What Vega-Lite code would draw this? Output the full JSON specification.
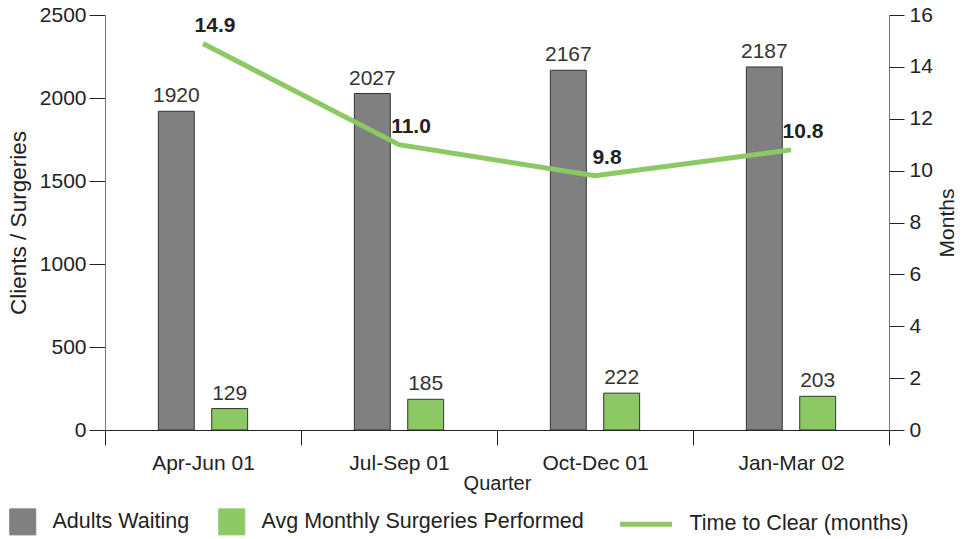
{
  "$schema": "https://vega.github.io/schema/vega-lite/v6.json",
  "width": 784,
  "height": 415,
  "autosize": "none",
  "padding": {"left": 105, "top": 15, "right": 80, "bottom": 109},
  "config": {
    "font": "Liberation Sans",
    "view": {"stroke": null},
    "axis": {
      "labelFont": "Liberation Sans",
      "labelFontSize": 21,
      "labelColor": "#222",
      "titleFont": "Liberation Sans",
      "titleFontSize": 21,
      "titleFontWeight": "normal",
      "titleColor": "#222",
      "grid": false,
      "tickColor": "#222",
      "domainColor": "#777"
    },
    "legend": {
      "labelFont": "Liberation Sans",
      "labelFontSize": 21.5,
      "labelColor": "#222",
      "labelLimit": 0
    }
  },
  "datasets": {
    "bars": [
      {"quarter": "Apr-Jun 01", "series": "Adults Waiting", "value": 1920},
      {"quarter": "Apr-Jun 01", "series": "Avg Monthly Surgeries Performed", "value": 129},
      {"quarter": "Jul-Sep 01", "series": "Adults Waiting", "value": 2027},
      {"quarter": "Jul-Sep 01", "series": "Avg Monthly Surgeries Performed", "value": 185},
      {"quarter": "Oct-Dec 01", "series": "Adults Waiting", "value": 2167},
      {"quarter": "Oct-Dec 01", "series": "Avg Monthly Surgeries Performed", "value": 222},
      {"quarter": "Jan-Mar 02", "series": "Adults Waiting", "value": 2187},
      {"quarter": "Jan-Mar 02", "series": "Avg Monthly Surgeries Performed", "value": 203}
    ],
    "line": [
      {"quarter": "Apr-Jun 01", "series": "Time to Clear (months)", "months": 14.9},
      {"quarter": "Jul-Sep 01", "series": "Time to Clear (months)", "months": 11.0},
      {"quarter": "Oct-Dec 01", "series": "Time to Clear (months)", "months": 9.8},
      {"quarter": "Jan-Mar 02", "series": "Time to Clear (months)", "months": 10.8}
    ]
  },
  "layer": [
    {
      "data": {"name": "bars"},
      "encoding": {
        "x": {
          "field": "quarter",
          "type": "nominal",
          "sort": null,
          "scale": {"paddingInner": 0, "paddingOuter": 0},
          "axis": {
            "title": "Quarter",
            "labelAngle": 0,
            "tickBand": "extent",
            "tickSize": 15,
            "labelPadding": 7,
            "titlePadding": 0,
            "titleFontSize": 20,
            "domainColor": "#222"
          }
        },
        "xOffset": {
          "field": "series",
          "sort": null,
          "scale": {"paddingInner": 0.327, "paddingOuter": 1.16}
        },
        "y": {
          "field": "value",
          "type": "quantitative",
          "scale": {"domain": [0, 2500]},
          "axis": {
            "title": "Clients / Surgeries",
            "titleFontSize": 22.5,
            "format": "d",
            "values": [0, 500, 1000, 1500, 2000, 2500],
            "tickSize": 16,
            "labelPadding": 3,
            "titlePadding": 9
          }
        }
      },
      "layer": [
        {
          "mark": {"type": "bar", "stroke": "#333", "strokeWidth": 1},
          "encoding": {
            "color": {
              "field": "series",
              "type": "nominal",
              "scale": {
                "domain": ["Adults Waiting", "Avg Monthly Surgeries Performed", "Time to Clear (months)"],
                "range": ["#808080", "#8CC864", "#8CC864"]
              },
              "legend": {
                "title": null,
                "orient": "none",
                "legendX": -93,
                "legendY": 496,
                "direction": "horizontal",
                "symbolSize": 676,
                "symbolType": "square",
                "symbolStrokeColor": "#333",
                "symbolStrokeWidth": 1,
                "symbolOpacity": 1,
                "labelOffset": 19,
                "columnPadding": 26,
                "encode": {
                  "symbols": {
                    "update": {
                      "shape": {"signal": "datum.value === 'Time to Clear (months)' ? 'M-0.9,0H3.1' : 'square'"},
                      "stroke": {"signal": "datum.value === 'Time to Clear (months)' ? '#8CC864' : '#333'"},
                      "strokeWidth": {"signal": "datum.value === 'Time to Clear (months)' ? 5 : 1"},
                      "size": {"value": 676}
                    }
                  },
                  "labels": {
                    "update": {
                      "dx": {"signal": "datum.value === 'Time to Clear (months)' ? 28 : 0"}
                    }
                  }
                }
              }
            }
          }
        },
        {
          "mark": {"type": "text", "baseline": "bottom", "dy": -5, "fontSize": 21, "color": "#333"},
          "encoding": {"text": {"field": "value", "type": "nominal"}}
        }
      ]
    },
    {
      "data": {"name": "line"},
      "encoding": {
        "x": {"field": "quarter", "type": "nominal", "sort": null},
        "y": {
          "field": "months",
          "type": "quantitative",
          "scale": {"domain": [0, 16]},
          "axis": {
            "orient": "right",
            "title": "Months",
            "titleAngle": -90,
            "titleBaseline": "top",
            "values": [0, 2, 4, 6, 8, 10, 12, 14, 16],
            "tickSize": 15,
            "labelPadding": 5,
            "titlePadding": 4
          }
        }
      },
      "layer": [
        {
          "mark": {"type": "line", "strokeWidth": 5},
          "encoding": {"color": {"datum": "Time to Clear (months)"}}
        },
        {
          "mark": {"type": "text", "baseline": "bottom", "dy": -8, "dx": 12, "fontSize": 21, "fontWeight": "bold", "color": "#222"},
          "encoding": {"text": {"field": "months", "type": "quantitative", "format": ".1f"}}
        }
      ]
    }
  ],
  "resolve": {"scale": {"y": "independent"}}
}
